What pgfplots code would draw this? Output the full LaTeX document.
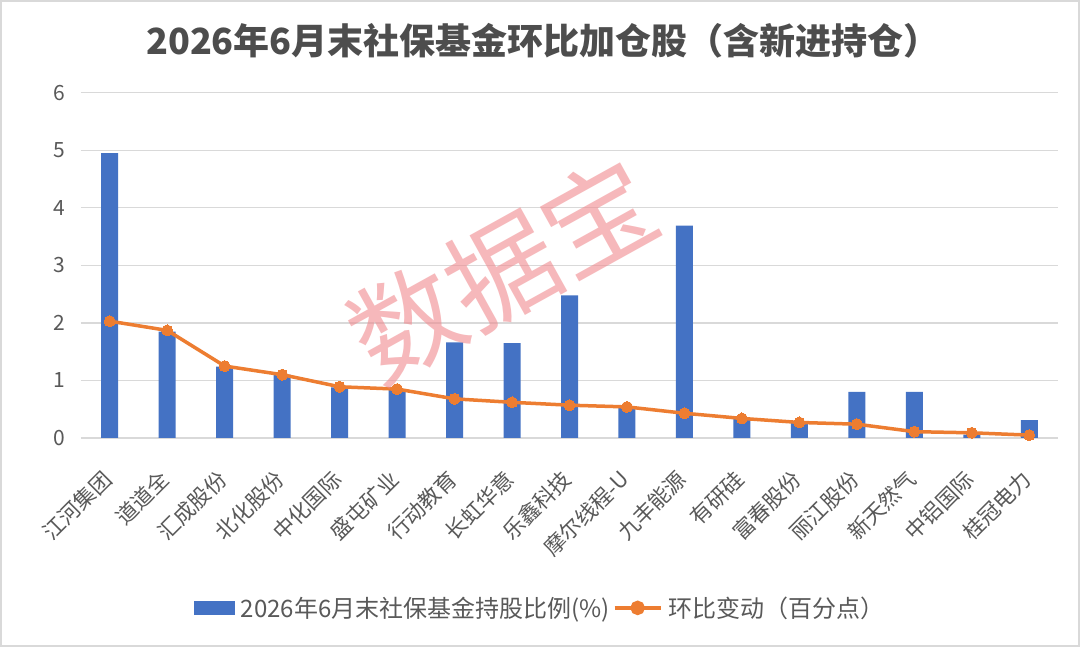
\documentclass[border=0pt]{standalone}
\usepackage{fontspec}
\setmainfont{Noto Sans CJK SC}
\usepackage{pgfplots}
\pgfplotsset{compat=1.18}
\definecolor{barblue}{HTML}{4472C4}
\definecolor{lineorange}{HTML}{ED7D31}
\definecolor{gridgray}{HTML}{D9D9D9}
\definecolor{txtgray}{HTML}{595959}
\definecolor{titlegray}{HTML}{4D4D4D}
\definecolor{wmpink}{HTML}{F08A8E}
\pgfplotstableread{
x bar line
0 4.95 2.03
1 1.85 1.87
2 1.24 1.25
3 1.10 1.10
4 0.88 0.89
5 0.84 0.85
6 1.66 0.68
7 1.65 0.62
8 2.48 0.57
9 0.54 0.54
10 3.69 0.43
11 0.34 0.34
12 0.27 0.27
13 0.80 0.24
14 0.80 0.11
15 0.06 0.09
16 0.31 0.05
}\datatable
\begin{document}
\begin{tikzpicture}[x=1pt,y=1pt]
\useasboundingbox (0,0) rectangle (1080,647);
\fill[white] (0,0) rectangle (1080,647);
\draw[gridgray, line width=2pt] (1,1) rectangle (1079,646);
\node[font=\fontsize{36}{36}\selectfont\bfseries, text=titlegray] at (543,606) {2026年6月末社保基金环比加仓股（含新进持仓）};
\begin{axis}[
  at={(81pt,209pt)}, anchor=south west,
  scale only axis, width=977pt, height=345.3pt,
  xmin=-0.5, xmax=16.5, ymin=0, ymax=6,
  ytick={0,1,2,3,4,5,6},
  xtick={0,...,16},
  xticklabels={江河集团,道道全,汇成股份,北化股份,中化国际,盛屯矿业,行动教育,长虹华意,乐鑫科技,摩尔线程-U,九丰能源,有研硅,富春股份,丽江股份,新天然气,中铝国际,桂冠电力},
  axis line style={draw=none},
  major tick length=0pt,
  ymajorgrids, grid style={gridgray, line width=1.3pt},
  /pgf/number format/assume math mode=true,
  yticklabel style={font=\fontsize{21}{21}\selectfont, text=txtgray, inner sep=0pt, xshift=-16pt},
  xticklabel style={font=\fontsize{21.5}{21.5}\selectfont, text=txtgray, inner sep=0pt, xshift=-2pt, yshift=-37pt, rotate=45, anchor=east},
  legend columns=2,
  legend style={draw=none, fill=none, at={(0.470,-0.492)}, anchor=center, font=\fontsize{24}{24}\selectfont, text=txtgray,
    /tikz/every odd column/.append style={column sep=4pt},
    /tikz/every even column/.append style={column sep=1pt}},
]
\addplot[ybar, bar width=17pt, fill=barblue, draw=none,
  legend image code/.code={\fill[barblue] (0pt,-7pt) rectangle (41pt,7pt);}]
  table[x=x, y=bar] {\datatable};
\addlegendentry{2026年6月末社保基金持股比例(\%)}
\addplot[sharp plot, color=lineorange, line width=3.5pt, mark=*, mark size=5.5pt, mark options={fill=lineorange, draw=lineorange, line width=0pt},
  legend image code/.code={\draw[lineorange, line width=3.5pt] (0pt,0pt) -- (46pt,0pt); \fill[lineorange] (23pt,0pt) circle (5.5pt);}]
  table[x=x, y=line] {\datatable};
\addlegendentry{环比变动（百分点）}
\end{axis}
\node[font=\fontsize{110}{110}\selectfont, text=wmpink, text opacity=0.6, rotate=29] at (502,377) {数据宝};
\end{tikzpicture}
\end{document}
